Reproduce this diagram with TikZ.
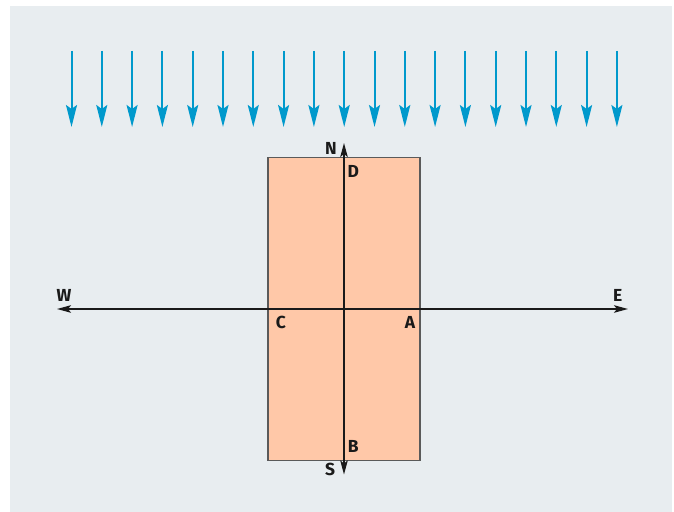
\documentclass[tikz,border=0pt]{standalone}
\usepackage{fontspec}
\setmainfont{Fira Sans}
\usetikzlibrary{arrows.meta}
\definecolor{bgcol}{HTML}{E8EDF0}
\definecolor{raycol}{HTML}{0099CC}
\definecolor{peach}{HTML}{FFC8A8}
\definecolor{edgecol}{HTML}{5A5A5A}
\definecolor{inkcol}{HTML}{1A1A1A}
\tikzset{
  ray/.style={draw=raycol, line width=2bp, -{Stealth[length=22bp,width=11bp,inset=4bp]}},
  axis/.style={draw=inkcol, line width=1.5bp, {Stealth[length=14bp,width=7.5bp,inset=3bp]}-{Stealth[length=14bp,width=7.5bp,inset=3bp]}},
  lab/.style={font=\fontsize{17.5}{17.5}\selectfont\bfseries, text=inkcol, inner sep=0pt},
  plate/.style={draw=edgecol, fill=peach, line width=1.2bp, minimum width=152bp, minimum height=303bp, inner sep=0pt}
}
\begin{document}
\begin{tikzpicture}[x=1bp,y=-1bp]
\useasboundingbox (0,0) rectangle (674,512);
\fill[bgcol] (10,6) rectangle (672,512);
\foreach \i in {0,...,18} {
  \coordinate (rt\i) at ({71.5+30.3*\i},51);
  \coordinate (rb\i) at ({71.5+30.3*\i},127);
  \draw[ray] (rt\i) -- (rb\i);
}
\node[plate] (plate) at (344,308.75) {};
\coordinate (Wend) at (57,309);
\coordinate (Eend) at (628,309);
\coordinate (Nend) at (344,143);
\coordinate (Send) at (344,474.5);
\draw[axis] (Wend) -- (Eend);
\draw[axis] (Send) -- (Nend);
\node[lab] (N) at (331,148) {N};
\node[lab] (D) at (353.3,171) {D};
\node[lab] (W) at (64,295.5) {W};
\node[lab] (E) at (617.7,295.5) {E};
\node[lab] (C) at (281,322.5) {C};
\node[lab] (A) at (410,322.5) {A};
\node[lab] (B) at (353.3,446.5) {B};
\node[lab] (S) at (330,469.5) {S};
\end{tikzpicture}
\end{document}
